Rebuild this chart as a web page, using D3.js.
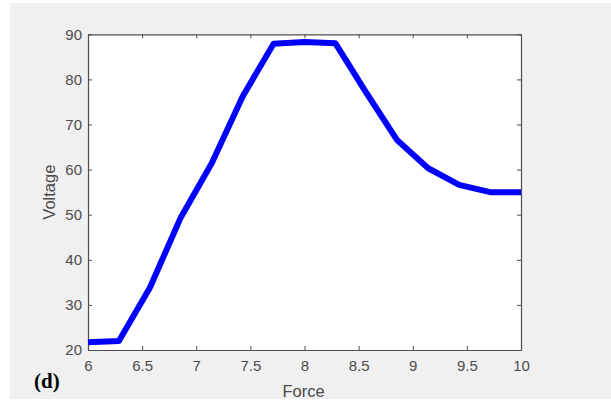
<!DOCTYPE html>
<html>
<head>
<meta charset="utf-8">
<script src="https://cdn.jsdelivr.net/npm/d3@7"></script>
<style>
  html, body { margin: 0; padding: 0; background: #ffffff; }
  svg { display: block; }
</style>
</head>
<body>
<svg id="chart" width="611" height="401"></svg>
<script>
// Force vs. voltage response, 15 evenly spaced samples from 6 to 10
const force = [6, 6.2857, 6.5714, 6.8571, 7.1429, 7.4286, 7.7143, 8,
               8.2857, 8.5714, 8.8571, 9.1429, 9.4286, 9.7143, 10];
const voltage = [21.7, 22.0, 33.8, 49.4, 61.4, 76.2, 87.9, 88.3,
                 88.0, 77.0, 66.5, 60.3, 56.6, 55.0, 55.0];
const xTicks = [6, 6.5, 7, 7.5, 8, 8.5, 9, 9.5, 10];
const yTicks = [20, 30, 40, 50, 60, 70, 80, 90];

const svg = d3.select("#chart");
const W = 611, H = 401;
const plot = { left: 88, top: 34.3, right: 521, bottom: 350 };

// figure background
svg.append("rect")
  .attr("x", 10).attr("y", 3)
  .attr("width", W - 10).attr("height", 396)
  .attr("fill", "#f0f0f0");

// axes area
svg.append("rect")
  .attr("x", plot.left).attr("y", plot.top)
  .attr("width", plot.right - plot.left).attr("height", plot.bottom - plot.top)
  .attr("fill", "#ffffff");

const x = d3.scaleLinear().domain([6, 10]).range([plot.left, plot.right]);
const y = d3.scaleLinear().domain([20, 90]).range([plot.bottom, plot.top]);

const axisColor = "#4d4d4d";
const tickFont = "'Liberation Sans', Arial, sans-serif";

function styleAxis(g) {
  g.select(".domain").attr("stroke", axisColor).attr("stroke-width", 1.2);
  g.selectAll(".tick line").attr("stroke", axisColor).attr("stroke-width", 1);
  g.selectAll(".tick text")
    .attr("fill", "#4d4d4d")
    .style("font-family", tickFont)
    .style("font-size", "15px");
}

// bottom axis with labels
svg.append("g")
  .attr("transform", `translate(0,${plot.bottom})`)
  .call(d3.axisBottom(x).tickValues(xTicks).tickFormat(d3.format("~g"))
        .tickSizeInner(-4).tickSizeOuter(0).tickPadding(10))
  .call(styleAxis);

// left axis with labels
svg.append("g")
  .attr("transform", `translate(${plot.left},0)`)
  .call(d3.axisLeft(y).tickValues(yTicks).tickFormat(d3.format("d"))
        .tickSizeInner(-4).tickSizeOuter(0).tickPadding(6))
  .call(styleAxis);

// top and right box edges with inward ticks
svg.append("g")
  .attr("transform", `translate(0,${plot.top})`)
  .call(d3.axisTop(x).tickValues(xTicks).tickFormat("")
        .tickSizeInner(-4).tickSizeOuter(0))
  .call(styleAxis);

svg.append("g")
  .attr("transform", `translate(${plot.right},0)`)
  .call(d3.axisRight(y).tickValues(yTicks).tickFormat("")
        .tickSizeInner(-4).tickSizeOuter(0))
  .call(styleAxis);

// data line
const line = d3.line()
  .x((d, i) => x(force[i]))
  .y(d => y(d));

svg.append("path")
  .datum(voltage)
  .attr("d", line)
  .attr("fill", "none")
  .attr("stroke", "#0000ff")
  .attr("stroke-width", 6)
  .attr("stroke-linejoin", "round")
  .attr("stroke-linecap", "butt");

// axis titles
svg.append("text")
  .attr("x", (plot.left + plot.right) / 2 - 1)
  .attr("y", 397)
  .attr("text-anchor", "middle")
  .attr("fill", "#4a4a4a")
  .style("font-family", tickFont)
  .style("font-size", "16.5px")
  .text("Force");

svg.append("text")
  .attr("transform", `translate(55,${(plot.top + plot.bottom) / 2}) rotate(-90)`)
  .attr("text-anchor", "middle")
  .attr("fill", "#4a4a4a")
  .style("font-family", tickFont)
  .style("font-size", "16.5px")
  .text("Voltage");

// panel label
svg.append("text")
  .attr("x", 34)
  .attr("y", 388)
  .attr("fill", "#000000")
  .style("font-family", "'Liberation Serif', 'Times New Roman', serif")
  .style("font-weight", "bold")
  .style("font-size", "21px")
  .text("(d)");
</script>
</body>
</html>
